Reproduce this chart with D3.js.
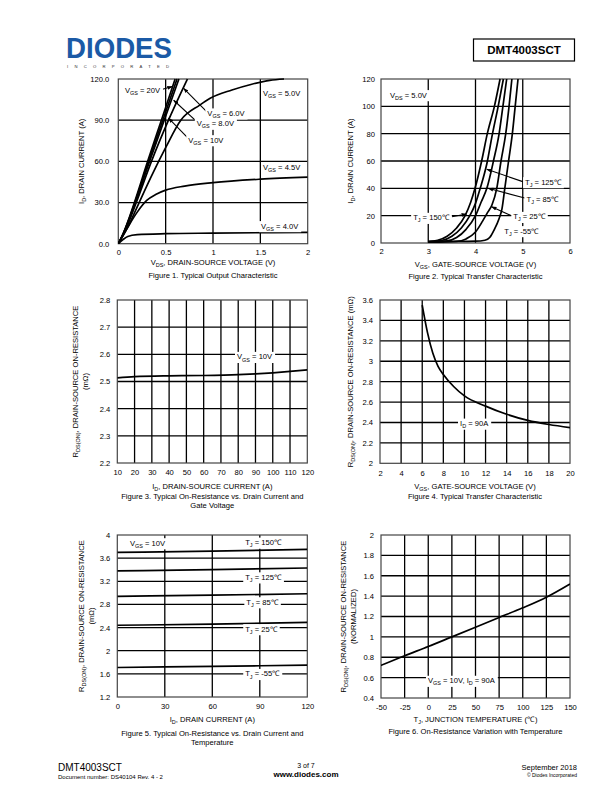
<!DOCTYPE html>
<html><head><meta charset="utf-8">
<script src="https://cdn.jsdelivr.net/npm/d3@7"></script>
<style>
body{margin:0;background:#fff}
svg{display:block}
text{font-family:"Liberation Sans",Arial,sans-serif;fill:#000}
</style>
</head><body>
<svg id="page" width="612" height="792"></svg>
<script>
// ---------------- DATA ----------------
// Figure 1: Typical Output Characteristic  [VDS (V), ID (A)]
const fig1Vgs20 = [[0,0],[0.05,7],[0.1,16],[0.17,30],[0.31,60],[0.455,90],[0.6,120]];
const fig1Vgs10 = [[0,0],[0.05,7],[0.1,15.5],[0.175,30],[0.32,60],[0.47,90],[0.62,120]];
const fig1Vgs8 = [[0,0],[0.05,6.8],[0.1,15],[0.18,30],[0.33,60],[0.485,90],[0.64,120]];
const fig1Vgs6 = [[0,0],[0.05,6.5],[0.1,14],[0.19,30],[0.35,60],[0.53,90],[0.73,120]];
const fig1Vgs5 = [[0,0],[0.1,12],[0.22,30],[0.355,50],[0.5,70],[0.66,90],[0.86,101],[0.97,106],[1.2,112],[1.4,116],[1.6,119],[1.75,120]];
const fig1Vgs45 = [[0,0],[0.1,12],[0.2,23],[0.3,31.5],[0.4,36],[0.5,39],[0.7,42],[1.0,44.5],[1.5,47],[2.0,48.5]];
const fig1Vgs4 = [[0,0],[0.05,3],[0.1,5.3],[0.2,6.6],[0.5,7.3],[1.0,7.7],[2.0,8.3]];
const fig1XTicks = [0,0.5,1,1.5,2];
const fig1YTicks = [0,30,60,90,120];

// Figure 2: Typical Transfer Characteristic  [VGS (V), ID (A)]
const fig2Tj150 = [[3.0,1],[3.2,2],[3.4,5],[3.6,11],[3.78,20],[3.9,30],[3.99,40],[4.13,60],[4.25,80],[4.4,100],[4.52,120]];
const fig2Tj125 = [[3.0,1],[3.3,2],[3.5,5],[3.7,11],[3.88,20],[4.0,29],[4.1,40],[4.24,58],[4.36,80],[4.48,100],[4.59,120]];
const fig2Tj85 = [[3.0,0.8],[3.4,1.5],[3.6,4],[3.8,10],[4.0,20],[4.12,30],[4.24,40],[4.38,60],[4.5,80],[4.58,100],[4.66,120]];
const fig2Tj25 = [[3.0,0.6],[3.6,1.2],[3.8,3],[4.0,8],[4.15,16],[4.25,22],[4.35,28],[4.45,40],[4.54,60],[4.64,80],[4.71,100],[4.77,120]];
const fig2TjM55 = [[3.0,1],[3.5,1.1],[4.0,1.3],[4.2,2],[4.3,4],[4.4,10],[4.5,18],[4.56,25],[4.62,40],[4.70,60],[4.78,80],[4.84,100],[4.9,120]];
const fig2XTicks = [2,3,4,5,6];
const fig2YTicks = [0,20,40,60,80,100,120];

// Figure 3: On-Resistance vs Drain Current  [ID (A), RDS(on) (mOhm)]
const fig3Vgs10 = [[10,2.513],[20,2.518],[40,2.521],[60,2.522],[80,2.525],[90,2.528],[100,2.532],[110,2.537],[120,2.543]];
const fig3XTicks = [10,20,30,40,50,60,70,80,90,100,110,120];
const fig3YTicks = [2.2,2.3,2.4,2.5,2.6,2.7,2.8];

// Figure 4: On-Resistance vs Gate Voltage  [VGS (V), RDS(on) (mOhm)]
const fig4Id90 = [[6,3.55],[6.5,3.28],[7,3.08],[7.5,2.95],[8,2.87],[9,2.75],[10,2.66],[12,2.56],[14,2.48],[16,2.42],[18,2.38],[20,2.35]];
const fig4XTicks = [2,4,6,8,10,12,14,16,18,20];
const fig4YTicks = [2,2.2,2.4,2.6,2.8,3,3.2,3.4,3.6];

// Figure 5: On-Resistance vs Drain Current and Temperature  [ID (A), RDS(on) (mOhm)]
const fig5Tj150 = [[0,3.70],[60,3.72],[120,3.75]];
const fig5Tj125 = [[0,3.38],[60,3.40],[120,3.43]];
const fig5Tj85 = [[0,2.94],[60,2.96],[120,2.985]];
const fig5Tj25 = [[0,2.44],[60,2.46],[120,2.49]];
const fig5TjM55 = [[0,1.71],[60,1.73],[120,1.75]];
const fig5XTicks = [0,30,60,90,120];
const fig5YTicks = [1.2,1.6,2,2.4,2.8,3.2,3.6,4];

// Figure 6: Normalized On-Resistance vs Junction Temperature  [TJ (C), RDS(on) normalized]
const fig6Curve = [[-50,0.72],[-25,0.815],[0,0.905],[25,1.0],[50,1.095],[75,1.19],[100,1.285],[125,1.39],[150,1.52]];
const fig6XTicks = [-50,-25,0,25,50,75,100,125,150];
const fig6YTicks = [0.4,0.6,0.8,1,1.2,1.4,1.6,1.8,2];

// ---------------- HELPERS ----------------
const svg = d3.select("#page");
const defs = svg.append("defs");
defs.append("marker").attr("id","arr").attr("viewBox","0 0 10 10").attr("refX",9).attr("refY",5)
  .attr("markerWidth",5).attr("markerHeight",5).attr("orient","auto")
  .append("path").attr("d","M0,1.5L10,5L0,8.5Z").attr("fill","#000");

// rich text: "V_{GS} = 10V"
function rich(textSel, str, size){
  const parts = str.split(/(_\{[^}]*\})/);
  let sub = false;
  parts.forEach(p=>{
    if(!p) return;
    const m = p.match(/^_\{(.*)\}$/);
    if(m){
      textSel.append("tspan").attr("font-size",size*0.72).attr("dy",size*0.28).text(m[1]);
      sub = true;
    } else {
      const t = textSel.append("tspan").attr("font-size",size).text(p);
      if(sub){ t.attr("dy",-size*0.28); sub=false; }
    }
  });
  return textSel;
}

let clipId = 0;
function chart(cfg){
  const g = svg.append("g");
  const x = d3.scaleLinear().domain(cfg.xDomain).range([cfg.left,cfg.right]);
  const y = d3.scaleLinear().domain(cfg.yDomain).range([cfg.bottom,cfg.top]);
  const gx = cfg.xTicks.slice(1,-1), gy = cfg.yTicks.slice(1,-1);
  g.selectAll(null).data(gx).join("line")
    .attr("x1",d=>x(d)).attr("x2",d=>x(d)).attr("y1",cfg.top).attr("y2",cfg.bottom)
    .attr("stroke","#000").attr("stroke-width",1.3);
  g.selectAll(null).data(gy).join("line")
    .attr("y1",d=>y(d)).attr("y2",d=>y(d)).attr("x1",cfg.left).attr("x2",cfg.right)
    .attr("stroke","#000").attr("stroke-width",1.3);
  g.append("rect").attr("x",cfg.left).attr("y",cfg.top).attr("width",cfg.right-cfg.left).attr("height",cfg.bottom-cfg.top)
    .attr("fill","none").attr("stroke","#444").attr("stroke-width",1.2);

  const xa = d3.axisBottom(x).tickValues(cfg.xTicks).tickSize(0).tickPadding(cfg.xPad||6).tickFormat(cfg.xFmt||(d=>String(d)));
  const ya = d3.axisLeft(y).tickValues(cfg.yTicks).tickSize(0).tickPadding(cfg.yPad||7).tickFormat(cfg.yFmt||(d=>String(d)));
  const axX = g.append("g").attr("transform",`translate(0,${cfg.bottom})`).call(xa);
  const axY = g.append("g").attr("transform",`translate(${cfg.left},0)`).call(ya);
  [axX,axY].forEach(a=>{
    a.select(".domain").remove();
    a.attr("font-family",null).attr("font-size",null);
    a.selectAll("text").attr("font-size",7.6).attr("fill","#000");
  });

  const cid = "clip"+(clipId++);
  defs.append("clipPath").attr("id",cid).append("rect")
    .attr("x",cfg.left).attr("y",cfg.top-1).attr("width",cfg.right-cfg.left).attr("height",cfg.bottom-cfg.top+1);
  const line = d3.line().x(d=>x(d[0])).y(d=>y(d[1])).curve(d3.curveMonotoneX);
  const cg = g.append("g").attr("clip-path",`url(#${cid})`);
  cfg.series.forEach(s=>{
    cg.append("path").attr("d",line(s)).attr("fill","none").attr("stroke","#000").attr("stroke-width",1.7);
  });

  // arrows
  (cfg.arrows||[]).forEach(a=>{
    g.append("line").attr("x1",x(a[0][0])).attr("y1",y(a[0][1])).attr("x2",x(a[1][0])).attr("y2",y(a[1][1]))
      .attr("stroke","#000").attr("stroke-width",1.1).attr("marker-end","url(#arr)");
  });
  // labels with white background
  (cfg.labels||[]).forEach(l=>{
    const lg = g.append("g");
    const bg = lg.append("rect").attr("fill","#fff");
    const t = lg.append("text").attr("x",x(l.x)).attr("y",y(l.y)+2.6);
    rich(t,l.text,7.6);
    const bb = t.node().getBBox();
    bg.attr("x",bb.x-2).attr("y",bb.y-0.5).attr("width",bb.width+4).attr("height",bb.height+1);
  });

  // axis titles
  const tx = g.append("text").attr("x",(cfg.left+cfg.right)/2).attr("y",cfg.xTitleY).attr("text-anchor","middle");
  rich(tx,cfg.xTitle,7.6);
  cfg.yTitle.forEach((yt,i)=>{
    const cx = cfg.yTitleX[i], cy=(cfg.top+cfg.bottom)/2;
    const t = g.append("text").attr("text-anchor","middle").attr("transform",`translate(${cx+2.6},${cy}) rotate(-90)`);
    rich(t,yt,7.6);
  });
  cfg.caption.forEach((c,i)=>{
    g.append("text").attr("x",(cfg.left+cfg.right)/2).attr("y",cfg.captionY[i]).attr("text-anchor","middle")
      .attr("font-size",7.6).text(c);
  });
}

// ---------------- CHARTS ----------------
chart({
  left:118.3,right:307.7,top:79,bottom:243.7,xDomain:[0,2],yDomain:[0,120],
  xTicks:fig1XTicks,yTicks:fig1YTicks,yFmt:d3.format(".1f"),yPad:9,xPad:6,
  series:[fig1Vgs20,fig1Vgs10,fig1Vgs8,fig1Vgs6,fig1Vgs5,fig1Vgs45,fig1Vgs4],
  arrows:[[[0.44,112],[0.57,114.5]],[[0.933,96.2],[0.69,113.2]],[[0.828,88.9],[0.585,104.5]],[[0.739,76.8],[0.53,91.5]]],
  labels:[{x:0.07,y:112,text:"V_{GS} = 20V"},{x:0.94,y:95,text:"V_{GS} = 6.0V"},{x:0.828,y:87.5,text:"V_{GS} = 8.0V"},
          {x:0.739,y:75.5,text:"V_{GS} = 10V"},{x:1.528,y:109.8,text:"V_{GS} = 5.0V"},{x:1.528,y:55.9,text:"V_{GS} = 4.5V"},
          {x:1.507,y:12.9,text:"V_{GS} = 4.0V"}],
  xTitle:"V_{DS}, DRAIN-SOURCE VOLTAGE (V)",xTitleY:265,
  yTitle:["I_{D}, DRAIN CURRENT (A)"],yTitleX:[81.7],
  caption:["Figure 1. Typical Output Characteristic"],captionY:[278]
});

chart({
  left:381,right:570,top:79,bottom:243,xDomain:[2,6],yDomain:[0,120],
  xTicks:fig2XTicks,yTicks:fig2YTicks,yPad:6,xPad:6,
  series:[fig2Tj150,fig2Tj125,fig2Tj85,fig2Tj25,fig2TjM55],
  arrows:[[[3.5,19.2],[3.81,21.2]],[[5.0,44.9],[4.24,53.9]],[[5.04,32.9],[4.27,40]],[[4.75,20.1],[4.34,26.6]]],
  labels:[{x:2.19,y:108.3,text:"V_{DS} = 5.0V"},{x:2.68,y:18.5,text:"T_{J} = 150℃"},{x:5.05,y:44.6,text:"T_{J} = 125℃"},
          {x:5.08,y:32.2,text:"T_{J} = 85℃"},{x:4.8,y:19.2,text:"T_{J} = 25℃"},{x:4.61,y:8.8,text:"T_{J} = -55℃"}],
  xTitle:"V_{GS}, GATE-SOURCE VOLTAGE (V)",xTitleY:266.5,
  yTitle:["I_{D}, DRAIN CURRENT (A)"],yTitleX:[350],
  caption:["Figure 2. Typical Transfer Characteristic"],captionY:[279]
});

chart({
  left:117.3,right:307.3,top:300,bottom:463,xDomain:[10,120],yDomain:[2.2,2.8],
  xTicks:fig3XTicks,yTicks:fig3YTicks,yFmt:d3.format(".1f"),yPad:7,xPad:7,
  series:[fig3Vgs10],
  labels:[{x:79.3,y:2.591,text:"V_{GS} = 10V"}],
  xTitle:"I_{D}, DRAIN-SOURCE CURRENT (A)",xTitleY:488.5,
  yTitle:["R_{DS(ON)}, DRAIN-SOURCE ON-RESISTANCE","(mΩ)"],yTitleX:[75,85],
  caption:["Figure 3. Typical On-Resistance vs. Drain Current and","Gate Voltage"],captionY:[498.5,507.5]
});

chart({
  left:380,right:570,top:300,bottom:463.3,xDomain:[2,20],yDomain:[2,3.6],
  xTicks:fig4XTicks,yTicks:fig4YTicks,yPad:7,xPad:7,
  series:[fig4Id90],
  labels:[{x:9.58,y:2.39,text:"I_{D} = 90A"}],
  xTitle:"V_{GS}, GATE-SOURCE VOLTAGE (V)",xTitleY:488.5,
  yTitle:["R_{DS(ON)}, DRAIN-SOURCE ON-RESISTANCE (mΩ)"],yTitleX:[350.7],
  caption:["Figure 4. Typical Transfer Characteristic"],captionY:[498.5]
});

chart({
  left:117.3,right:307.3,top:535,bottom:697,xDomain:[0,120],yDomain:[1.2,4],
  xTicks:fig5XTicks,yTicks:fig5YTicks,yPad:7,xPad:7,
  series:[fig5Tj150,fig5Tj125,fig5Tj85,fig5Tj25,fig5TjM55],
  labels:[{x:8,y:3.86,text:"V_{GS} = 10V"},{x:80.8,y:3.87,text:"T_{J} = 150℃"},{x:80.8,y:3.27,text:"T_{J} = 125℃"},
          {x:81.5,y:2.84,text:"T_{J} = 85℃"},{x:80.8,y:2.375,text:"T_{J} = 25℃"},{x:80.8,y:1.6,text:"T_{J} = -55℃"}],
  xTitle:"I_{D}, DRAIN CURRENT (A)",xTitleY:721.5,
  yTitle:["R_{DS(ON)}, DRAIN-SOURCE ON-RESISTANCE","(mΩ)"],yTitleX:[81.7,91.7],
  caption:["Figure 5. Typical On-Resistance vs. Drain Current and","Temperature"],captionY:[735.5,744.5]
});

chart({
  left:381,right:570,top:535,bottom:698,xDomain:[-50,150],yDomain:[0.4,2],
  xTicks:fig6XTicks,yTicks:fig6YTicks,yPad:7,xPad:7,
  series:[fig6Curve],
  labels:[{x:-0.3,y:0.57,text:"V_{GS} = 10V, I_{D} = 90A"}],
  xTitle:"T_{J}, JUNCTION TEMPERATURE (℃)",xTitleY:721.5,
  yTitle:["R_{DS(ON)}, DRAIN-SOURCE ON-RESISTANCE","(NORMALIZED)"],yTitleX:[343.3,353.3],
  caption:["Figure 6. On-Resistance Variation with Temperature"],captionY:[734]
});

// ---------------- HEADER / FOOTER ----------------
svg.append("text").attr("x",66).attr("y",58).attr("font-size",29).attr("font-weight","bold")
  .attr("textLength",106).attr("lengthAdjust","spacingAndGlyphs").attr("fill","#1b5aa6").style("fill","#1b5aa6").text("DIODES");
svg.append("text").attr("x",67).attr("y",67.5).attr("font-size",4.2).attr("textLength",102).attr("lengthAdjust","spacing")
  .style("fill","#333").text("INCORPORATED");
svg.append("rect").attr("x",473.5).attr("y",39).attr("width",101).attr("height",22).attr("fill","none").attr("stroke","#000").attr("stroke-width",1.2);
svg.append("text").attr("x",524).attr("y",54).attr("text-anchor","middle").attr("font-size",11.5).attr("font-weight","bold").text("DMT4003SCT");

svg.append("text").attr("x",58).attr("y",771).attr("font-size",10).text("DMT4003SCT");
svg.append("text").attr("x",58).attr("y",778.5).attr("font-size",6).text("Document number: DS40104  Rev. 4 - 2");
svg.append("text").attr("x",306).attr("y",768).attr("text-anchor","middle").attr("font-size",7).text("3 of 7");
svg.append("text").attr("x",306).attr("y",776.5).attr("text-anchor","middle").attr("font-size",8).attr("font-weight","bold").text("www.diodes.com");
svg.append("text").attr("x",577).attr("y",770).attr("text-anchor","end").attr("font-size",7.5).text("September 2018");
svg.append("text").attr("x",577).attr("y",777).attr("text-anchor","end").attr("font-size",5).text("© Diodes Incorporated");
</script>
</body></html>
